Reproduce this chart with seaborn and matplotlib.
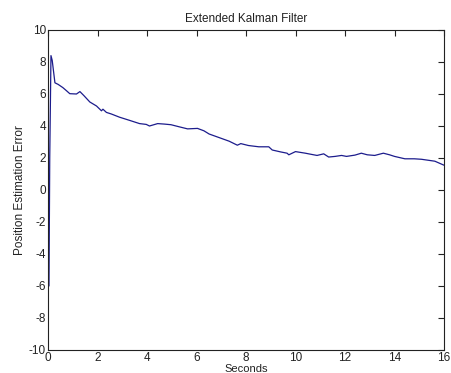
import numpy as np
import pandas as pd
import matplotlib
matplotlib.use("Agg")
import matplotlib.pyplot as plt
import seaborn as sns

seconds = [0.04, 0.07, 0.12, 0.17, 0.28, 0.41, 0.6, 0.75, 0.88, 1.15, 1.29, 1.45, 1.69, 1.96,
           2.16, 2.22, 2.36, 2.56, 2.89, 3.3, 3.7, 3.97, 4.1, 4.43, 4.7, 4.97, 5.3, 5.64,
           6.04, 6.3, 6.51, 7.05, 7.32, 7.65, 7.79, 8.1, 8.52, 8.92, 9.06, 9.4, 9.66, 9.73,
           10.0, 10.4, 10.53, 10.87, 11.14, 11.34, 11.6, 11.86, 12.06, 12.4, 12.66, 12.9,
           13.2, 13.55, 13.8, 14.0, 14.42, 14.8, 15.09, 15.63, 16.0]
error = [-6.0, 2.0, 8.4, 8.1, 6.7, 6.6, 6.4, 6.2, 6.02, 6.0, 6.15, 5.9, 5.5, 5.25,
         4.95, 5.05, 4.85, 4.75, 4.55, 4.35, 4.15, 4.1, 4.0, 4.15, 4.12, 4.08, 3.95, 3.82,
         3.85, 3.7, 3.5, 3.2, 3.05, 2.8, 2.9, 2.78, 2.7, 2.7, 2.5, 2.38, 2.3, 2.2,
         2.4, 2.3, 2.26, 2.16, 2.26, 2.06, 2.1, 2.16, 2.1, 2.18, 2.3, 2.2,
         2.16, 2.3, 2.2, 2.1, 1.95, 1.95, 1.92, 1.8, 1.55]

xticks = [0, 2, 4, 6, 8, 10, 12, 14, 16]
yticks = [-10, -8, -6, -4, -2, 0, 2, 4, 6, 8, 10]

df = pd.DataFrame({"Seconds": seconds, "Error": error})

sns.set_style("white")
plt.rcParams['font.family'] = ['Liberation Sans', 'DejaVu Sans']
plt.rcParams['axes.unicode_minus'] = False

fig = plt.figure(figsize=(4.51, 3.73), dpi=100)
ax = fig.add_axes([48/451, 1-350/373, (444-48)/451, (350-30)/373])
sns.lineplot(data=df, x="Seconds", y="Error", ax=ax, color="#1c1c8c", linewidth=0.9,
             estimator=None, sort=False)
ax.set_xlim(0, 16)
ax.set_ylim(-10, 10)
ax.set_xticks(xticks)
ax.set_yticks(yticks)
ax.tick_params(direction="in", length=4, width=0.8, top=True, right=True,
               labelsize=8.5, colors="#222222", pad=1.5)
for s in ax.spines.values():
    s.set_color("#222222")
    s.set_linewidth(0.8)
ax.set_title("Extended Kalman Filter", fontsize=8.5, color="#222222", pad=6)
ax.set_xlabel("Seconds", fontsize=8, color="#222222", labelpad=0)
ax.set_ylabel("Position Estimation Error", fontsize=8.5, color="#222222", labelpad=2)
fig.savefig("out.png", dpi=100)
